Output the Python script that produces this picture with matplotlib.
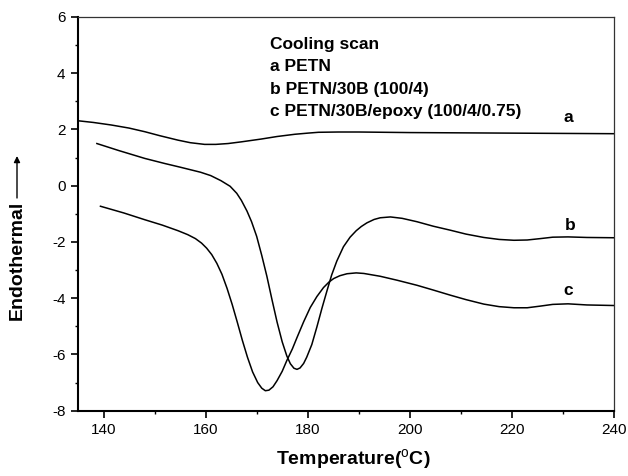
import matplotlib
matplotlib.use("Agg")
import matplotlib.pyplot as plt

plt.rcParams["font.family"] = ["Liberation Sans", "DejaVu Sans"]
plt.rcParams["axes.unicode_minus"] = False
plt.rcParams["mathtext.fontset"] = "custom"
plt.rcParams["mathtext.rm"] = "Liberation Sans"
plt.rcParams["mathtext.bf"] = "Liberation Sans:bold"

# curve a: PETN
a_x = [135, 138, 141.5, 145, 148.1, 151, 154.6, 157, 159.8, 162, 164.4, 167,
       170.9, 174, 177.5, 180, 182.1, 186, 190, 200, 210, 220, 230, 240]
a_y = [2.31, 2.25, 2.16, 2.05, 1.92, 1.78, 1.62, 1.53, 1.47, 1.47, 1.50, 1.56,
       1.66, 1.75, 1.83, 1.87, 1.90, 1.91, 1.91, 1.89, 1.88, 1.87, 1.86, 1.85]

# curve b: PETN/30B (100/4)
b_x = [138.7, 143, 148.1, 152, 155, 159, 161, 163, 164.8, 166.1, 167, 168.1, 169,
       170, 171, 172, 173, 174, 175, 175.9, 176.6, 177.3, 177.9, 178.5, 179.2,
       179.8, 180.8, 181.8, 182.8, 183.8, 184.7, 185.7, 187, 188.3, 189.5, 190.5,
       191.6, 193, 194.2, 196.2, 198.5, 201.4, 204.6, 207.9, 211, 214.5, 217.5,
       220.4, 223, 225.6, 228, 231, 234.7, 240]
b_y = [1.50, 1.25, 0.97, 0.79, 0.66, 0.48, 0.36, 0.18, -0.02, -0.27, -0.52, -0.9, -1.28,
       -1.8, -2.48, -3.22, -4.05, -4.85, -5.55, -6.05, -6.33, -6.49, -6.53, -6.48, -6.32,
       -6.1, -5.65, -5.02, -4.35, -3.72, -3.17, -2.68, -2.17, -1.83, -1.6, -1.45,
       -1.32, -1.2, -1.14, -1.11, -1.16, -1.28, -1.44, -1.58, -1.72, -1.84, -1.91,
       -1.94, -1.93, -1.88, -1.83, -1.82, -1.84, -1.85]

# curve c: PETN/30B/epoxy (100/4/0.75)
c_x = [139.4, 144, 148.1, 151.5, 154.6, 156.5, 158, 159.2, 160.2, 161.2, 162.2,
       163.2, 164.2, 165.2, 166.2, 167.2, 168.2, 169.2, 170.2, 171, 171.7, 172.4,
       173.2, 174, 175, 175.9, 177, 177.9, 179.2, 180.5, 181.8, 183.1, 184.2,
       185.1, 186.3, 187.7, 189.5, 191, 194.2, 197.5, 201.4, 204.6, 207.9, 211,
       214.5, 217.5, 220.4, 223, 225.6, 228, 231, 234.7, 240]
c_y = [-0.73, -0.97, -1.21, -1.40, -1.60, -1.74, -1.88, -2.04, -2.22, -2.45, -2.76,
       -3.15, -3.65, -4.22, -4.85, -5.5, -6.1, -6.62, -7.0, -7.2, -7.29, -7.27,
       -7.15, -6.93, -6.6, -6.22, -5.8, -5.4, -4.84, -4.33, -3.94, -3.62, -3.42,
       -3.3, -3.2, -3.13, -3.1, -3.12, -3.22, -3.36, -3.54, -3.71, -3.89, -4.05,
       -4.21, -4.30, -4.34, -4.34, -4.28, -4.22, -4.20, -4.24, -4.26]

curve_labels = ["a", "b", "c"]
label_pos = [(231, 2.42), (231.5, -1.42), (231, -3.72)]
legend_lines = ["Cooling scan", "a PETN", "b PETN/30B (100/4)",
                "c PETN/30B/epoxy (100/4/0.75)"]

fig = plt.figure(figsize=(6.28, 4.76), dpi=100)
ax = fig.add_axes([0.1242, 0.1372, 0.8535, 0.8271])

for xs, ys in [(a_x, a_y), (b_x, b_y), (c_x, c_y)]:
    ax.plot(xs, ys, color="black", lw=1.1)

for lab, (lx, ly) in zip(curve_labels, label_pos):
    ax.text(lx, ly, lab, fontsize=12.5, fontweight="bold", ha="center", va="center")

for i, line in enumerate(legend_lines):
    ax.text(0.358, 0.929 - i * 0.056, line, transform=ax.transAxes,
            fontsize=12.5, fontweight="bold", ha="left", va="center")

ax.set_xlim(135, 240)
ax.set_ylim(-8, 6)
ax.set_xticks(range(140, 241, 20))
ax.set_xticks(range(150, 240, 20), minor=True)
ax.set_yticks(range(-8, 7, 2))
ax.set_yticks(range(-7, 6, 2), minor=True)
ax.tick_params(which="major", direction="out", length=5, width=1.2, labelsize=11, pad=4)
ax.tick_params(which="minor", direction="out", length=2.5, width=1.0)
ax.tick_params(top=False, right=False)
for side in ["left", "bottom"]:
    ax.spines[side].set_linewidth(1.5)
for side in ["top", "right"]:
    ax.spines[side].set_linewidth(0.9)
    ax.spines[side].set_color("#333333")

fig.text(0.5 + 0.5 * 0.1242, 1 - 460 / 476, r"Temperature($^{\mathrm{o}}$C)",
         fontsize=14, fontweight="bold", ha="center", va="center")
fig.text(17 / 628, 1 - 260 / 476, "Endothermal", rotation=90,
         fontsize=14, fontweight="bold", ha="center", va="center")
ax.annotate("", xy=(17 / 628, 1 - 156 / 476), xytext=(17 / 628, 1 - 198 / 476),
            xycoords="figure fraction", textcoords="figure fraction",
            arrowprops=dict(arrowstyle="-|>", lw=1.0, color="black",
                            mutation_scale=9, shrinkA=0, shrinkB=0))

fig.savefig("out.png", dpi=100)
